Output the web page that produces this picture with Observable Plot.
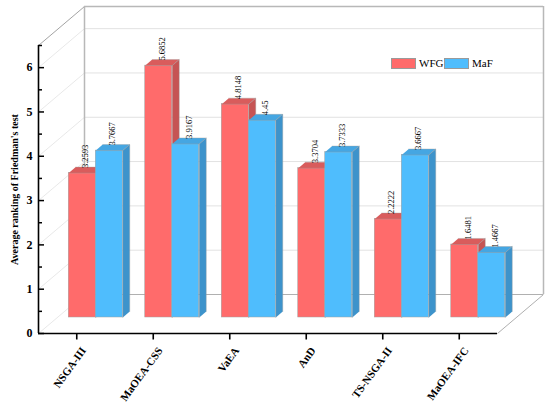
<!DOCTYPE html>
<html><head><meta charset="utf-8">
<script src="https://cdn.jsdelivr.net/npm/d3@7"></script>
<script src="https://cdn.jsdelivr.net/npm/@observablehq/plot@0.6"></script>
<style>
body{margin:0;background:#fff;}
#wrap{position:relative;width:550px;height:407px;font-family:"Liberation Serif","Times New Roman",serif;}
.lg{position:absolute;font-size:11px;line-height:11px;font-family:"Liberation Serif",serif;}
.sw{position:absolute;width:25px;height:11px;box-sizing:border-box;border:1px solid #9a9a9a;}
</style></head>
<body><div id="wrap"></div>
<script>
const categories = ["NSGA-III","MaOEA-CSS","VaEA","AnD","TS-NSGA-II","MaOEA-IFC"];
const seriesNames = ["WFG","MaF"];
const wfgValues = [3.2593, 5.6852, 4.8148, 3.3704, 2.2222, 1.6481];
const mafValues = [3.7667, 3.9167, 4.45, 3.7333, 3.6667, 1.4667];
const yTicks = [0,1,2,3,4,5,6];
const yMinor = [0.5,1.5,2.5,3.5,4.5,5.5,6.5];

const W=550,H=407,mL=38,mR=53,mT=45,mB=74;
const xMin=-0.5,xMax=5.5,yMax=6.5;
const pxX=(W-mL-mR)/(xMax-xMin), pxY=(H-mT-mB)/yMax;
const DX=46/pxX, DY=39/pxY;        // wall depth in data units
const bw=27/pxX;                   // bar width
const cx=7/pxX, cy=6/pxY;          // bar depth
const bdx=19, bdy=-16;             // bar placement depth (px)

const colors = {
  WFG:{front:"#ff6b6b", top:"#d95c5c", side:"#c65454"},
  MaF:{front:"#4fbdfd", top:"#45a6e2", side:"#3d93cb"}
};

function build(name, vals, off){
  const rows = vals.map((v,i)=>({i, v, name, x1:i+off, x2:i+off+bw}));
  const caps=[], sides=[];
  rows.forEach(r=>{
    const id=r.name+r.i;
    caps.push({id,x:r.x1,y:r.v},{id,x:r.x2,y:r.v},{id,x:r.x2+cx,y:r.v+cy},{id,x:r.x1+cx,y:r.v+cy});
    sides.push({id,x:r.x2,y:0},{id,x:r.x2,y:r.v},{id,x:r.x2+cx,y:r.v+cy},{id,x:r.x2+cx,y:cy});
  });
  return {rows,caps,sides};
}
const series = [build("WFG", wfgValues, -bw), build("MaF", mafValues, 0)];

function barMarks(s){
  const c = colors[s.rows[0].name];
  return [
    Plot.rect(s.rows,{x1:"x1",x2:"x2",y1:0,y2:"v",fill:c.front,stroke:"#a0a0a0",strokeWidth:0.5,dx:bdx,dy:bdy}),
    Plot.line(s.caps,{x:"x",y:"y",z:"id",fill:c.top,stroke:"#a0a0a0",strokeWidth:0.4,dx:bdx,dy:bdy}),
    Plot.line(s.sides,{x:"x",y:"y",z:"id",fill:c.side,stroke:"#a0a0a0",strokeWidth:0.4,dx:bdx,dy:bdy})
  ];
}

const diag = yTicks.map(v=>({v}));
const labels = series.flatMap(s=>s.rows);
const catIdx = d3.range(categories.length);

const chart = Plot.plot({
  width:W, height:H, marginLeft:mL, marginRight:mR, marginTop:mT, marginBottom:mB,
  style:{fontFamily:"Liberation Serif", background:"transparent"},
  x:{domain:[xMin,xMax], axis:null},
  y:{domain:[0,yMax], axis:null},
  marks:[
    // left wall diagonals
    Plot.link(diag,{x1:xMin,y1:"v",x2:xMin+DX,y2:d=>d.v+DY,stroke:"#e2e2e2",strokeWidth:0.8}),
    Plot.link([yMax],{x1:xMin,y1:d=>d,x2:xMin+DX,y2:d=>d+DY,stroke:"#8c8c8c",strokeWidth:0.8}),
    // floor right diagonal
    Plot.link([0],{x1:xMax,y1:0,x2:xMax+DX,y2:DY,stroke:"#9a9a9a",strokeWidth:0.8}),
    // back wall gridlines
    Plot.ruleY(yTicks.slice(1),{x1:xMin,x2:xMax,dx:46,dy:-39,stroke:"#e2e2e2",strokeWidth:1}),
    Plot.ruleY([0],{x1:xMin,x2:xMax,dx:46,dy:-39,stroke:"#b0b0b0",strokeWidth:1}),
    Plot.ruleY([yMax],{x1:xMin,x2:xMax,dx:46,dy:-39,stroke:"#b8b8b8",strokeWidth:1.5}),
    Plot.ruleX([xMin,xMax],{y1:0,y2:yMax,dx:46,dy:-39,stroke:"#b8b8b8",strokeWidth:1.5}),
    // bars
    ...barMarks(series[0]),
    ...barMarks(series[1]),
    // value labels
    Plot.text(labels,{x:d=>d.x1+bw/2+cx/2,y:d=>d.v+cy/2,text:d=>String(d.v),rotate:-90,textAnchor:"start",lineAnchor:"middle",fontSize:8.5,fill:"#000",dx:bdx,dy:bdy-2}),
    // axes lines
    Plot.ruleX([xMin],{y1:0,y2:yMax,stroke:"#000",strokeWidth:1.6}),
    Plot.ruleY([0],{x1:xMin,x2:xMax,stroke:"#000",strokeWidth:1.6}),
    // y ticks (inward)
    Plot.ruleY(yTicks,{x1:xMin,x2:xMin+6/pxX,stroke:"#000",strokeWidth:1.5}),
    Plot.ruleY(yMinor,{x1:xMin,x2:xMin+4/pxX,stroke:"#000",strokeWidth:1.5}),
    Plot.text(yTicks,{x:xMin,y:d=>d,text:d=>String(d),textAnchor:"end",dx:-6,fontSize:12,fontWeight:"bold",fill:"#000"}),
    // x ticks and labels
    Plot.ruleX(catIdx,{y1:0,y2:-6.5/pxY,stroke:"#000",strokeWidth:1.6}),
    Plot.text(catIdx,{x:d=>d,y:0,text:i=>categories[i],rotate:-54,textAnchor:"end",lineAnchor:"middle",dx:7,dy:15,fontSize:11,fontWeight:"bold",fill:"#000"}),
    Plot.text(["Average ranking of Friedman's test"],{frameAnchor:"left",rotate:-90,dx:-24,fontSize:10,fontWeight:"bold",fill:"#000",textAnchor:"middle",lineAnchor:"middle"})
  ]
});
const wrap=document.getElementById("wrap");
wrap.appendChild(chart);
// legend
const lg=[{n:seriesNames[0],c:colors.WFG.front,x:391},{n:seriesNames[1],c:colors.MaF.front,x:444}];
lg.forEach(l=>{
  const s=document.createElement("div");s.className="sw";s.style.left=l.x+"px";s.style.top="58px";s.style.background=l.c;wrap.appendChild(s);
  const t=document.createElement("div");t.className="lg";t.textContent=l.n;t.style.left=(l.x+28)+"px";t.style.top="58px";wrap.appendChild(t);
});
</script></body></html>
